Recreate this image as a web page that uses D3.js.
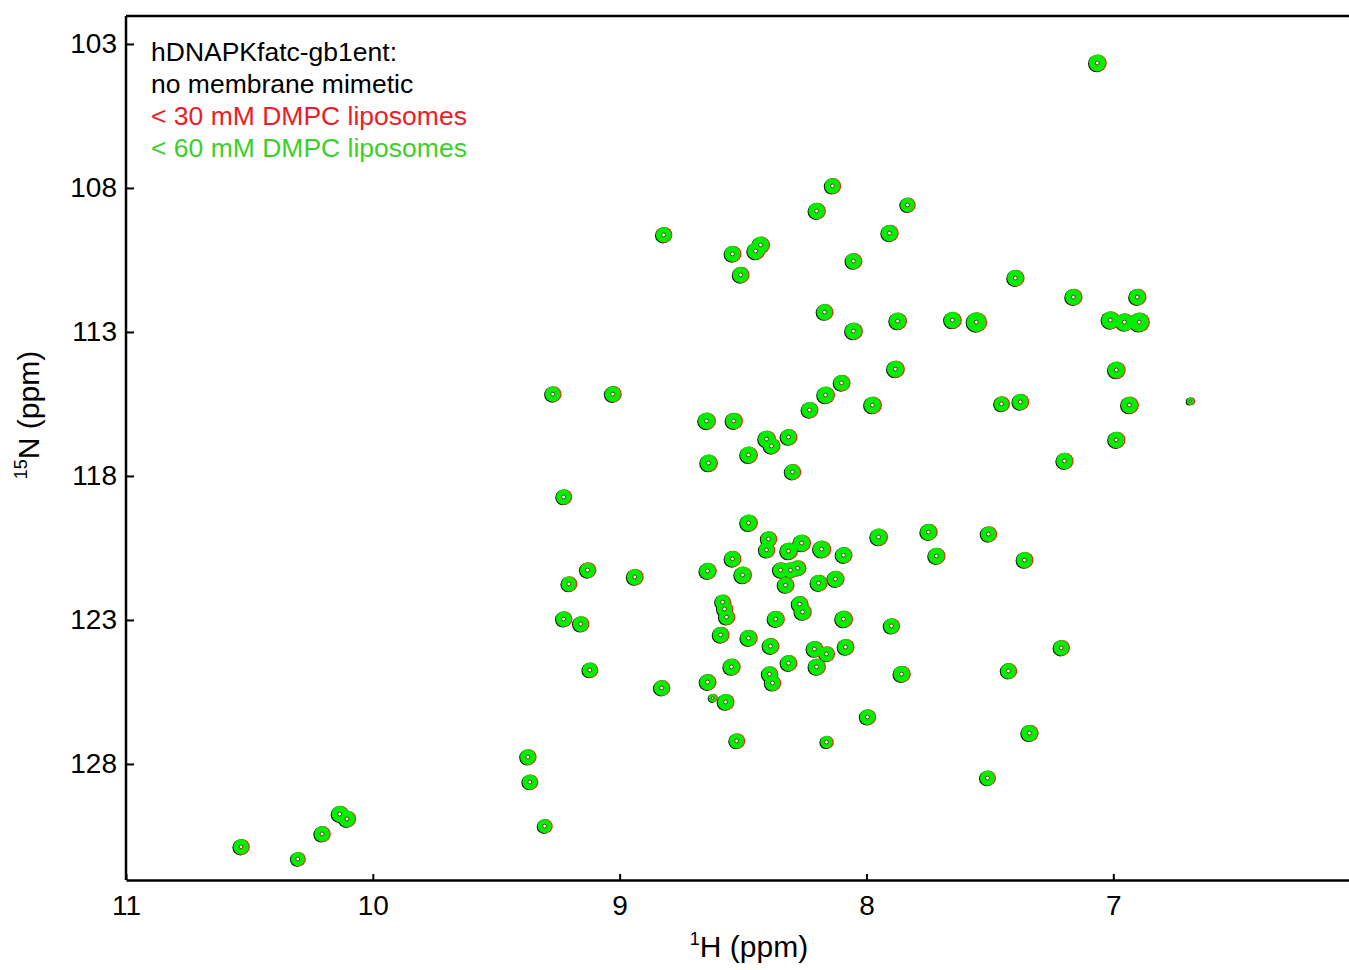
<!DOCTYPE html>
<html>
<head>
<meta charset="utf-8">
<script src="https://cdn.jsdelivr.net/npm/d3@7"></script>
<style>
  html, body { margin: 0; padding: 0; background: #fff; }
  svg { display: block; }
  text { font-family: Arial, "Liberation Sans", sans-serif; }
</style>
</head>
<body>
<svg id="chart" width="1349" height="970"></svg>
<script>
// 1H-15N HSQC overlay of hDNAPKfatc-gb1ent under three conditions.
// Each peak: [1H shift (ppm), 15N shift (ppm), relative intensity]
const peaks = [
  [7.065, 103.66, 1.0], [8.138, 107.93, 0.85], [7.834, 108.59, 0.75], [8.202, 108.80, 0.95],
  [8.822, 109.63, 0.85], [7.907, 109.57, 0.95], [8.449, 110.19, 1.0], [8.429, 109.98, 1.0],
  [8.543, 110.29, 0.9], [8.053, 110.54, 0.9], [8.510, 111.02, 0.9], [7.397, 111.13, 0.95],
  [7.162, 111.79, 0.95], [6.903, 111.79, 0.95], [8.170, 112.31, 0.9], [7.652, 112.59, 1.0],
  [7.555, 112.66, 1.35], [7.874, 112.62, 1.0], [8.053, 112.97, 1.0], [7.012, 112.59, 1.1],
  [6.955, 112.66, 1.1], [6.895, 112.66, 1.3], [7.883, 114.29, 1.0], [6.988, 114.32, 1.0],
  [8.101, 114.77, 0.9], [8.166, 115.19, 1.0], [9.271, 115.16, 0.85], [9.028, 115.16, 0.9],
  [7.976, 115.54, 1.0], [8.231, 115.71, 0.9], [7.453, 115.50, 0.8], [7.377, 115.43, 0.9],
  [6.935, 115.54, 1.0], [6.688, 115.40, 0.2], [8.648, 116.09, 1.0], [8.538, 116.09, 0.95],
  [8.405, 116.72, 1.0], [8.385, 116.96, 0.9], [8.316, 116.65, 0.9], [6.988, 116.75, 0.95],
  [8.478, 117.27, 1.0], [8.640, 117.55, 1.0], [8.300, 117.86, 0.85], [7.198, 117.48, 0.95],
  [9.227, 118.73, 0.8], [8.478, 119.63, 1.0], [7.749, 119.95, 0.95], [7.506, 120.02, 0.85],
  [7.951, 120.12, 1.0], [8.397, 120.19, 0.85], [8.405, 120.57, 0.85], [8.263, 120.33, 1.0],
  [8.316, 120.61, 1.0], [8.182, 120.54, 1.05], [8.093, 120.75, 0.9], [7.717, 120.78, 0.95],
  [7.360, 120.92, 0.9], [8.543, 120.88, 0.9], [9.130, 121.27, 0.85], [8.644, 121.30, 0.95],
  [8.502, 121.44, 1.0], [8.348, 121.27, 0.85], [8.308, 121.27, 0.85], [8.279, 121.20, 0.85],
  [8.328, 121.79, 0.9], [8.194, 121.72, 0.95], [8.126, 121.58, 0.95], [8.939, 121.51, 0.9],
  [9.206, 121.75, 0.8], [8.583, 122.38, 0.8], [8.575, 122.62, 0.85], [8.567, 122.90, 0.85],
  [8.271, 122.45, 0.9], [8.259, 122.72, 0.95], [9.227, 122.97, 0.85], [9.158, 123.14, 0.85],
  [8.368, 122.97, 0.95], [8.093, 122.97, 1.0], [7.899, 123.21, 0.85], [8.591, 123.52, 0.9],
  [8.478, 123.63, 0.95], [8.389, 123.91, 0.9], [8.211, 124.01, 0.9], [8.162, 124.18, 0.8],
  [8.085, 123.94, 0.9], [7.211, 123.97, 0.85], [9.121, 124.74, 0.8], [8.547, 124.63, 0.95],
  [8.316, 124.50, 0.9], [8.202, 124.63, 0.95], [7.858, 124.88, 0.95], [7.425, 124.77, 0.85],
  [8.393, 124.88, 0.85], [8.381, 125.19, 0.85], [8.830, 125.36, 0.85], [8.644, 125.16, 0.9],
  [8.623, 125.71, 0.25], [8.571, 125.85, 0.9], [7.996, 126.37, 0.85], [8.526, 127.20, 0.8],
  [8.162, 127.24, 0.55], [7.340, 126.93, 0.95], [9.372, 127.76, 0.85], [9.364, 128.63, 0.8],
  [7.510, 128.49, 0.8], [9.304, 130.16, 0.7], [10.134, 129.74, 0.95], [10.105, 129.91, 0.95],
  [10.206, 130.43, 0.85], [10.534, 130.88, 0.85], [10.304, 131.30, 0.7]
];

const hTicks = [11, 10, 9, 8, 7];
const nTicks = [103, 108, 113, 118, 123, 128];

const legendLines = [
  { label: "hDNAPKfatc-gb1ent:", color: "#000000" },
  { label: "no membrane mimetic", color: "#000000" },
  { label: "< 30 mM DMPC liposomes", color: "#ee1c25" },
  { label: "< 60 mM DMPC liposomes", color: "#3ccf2c" }
];

// Spectra are stacked: reference first, then the two liposome titration points.
const spectra = [
  { name: "none",   fill: "#111111", dx: -0.7, dy: 0.6 },
  { name: "dmpc30", fill: "#ff1a1a", dx: 0.9,  dy: 0.1 },
  { name: "dmpc60", fill: "#00ee00", dx: 0,    dy: 0 }
];

const svg = d3.select("#chart");
const plotLeft = 126, plotTop = 16, plotRight = 1349, plotBottom = 880;

const x = d3.scaleLinear().domain([11, 6.045]).range([plotLeft, plotRight]);
const y = d3.scaleLinear().domain([102.03, 132.03]).range([plotTop, plotBottom]);
const r = d3.scaleSqrt().domain([0, 1]).range([0, 8.6]);

// Peaks
const plot = svg.append("g");
spectra.forEach((s, i) => {
  plot.append("g").selectAll("circle")
    .data(peaks).join("circle")
    .attr("cx", d => x(d[0]) + s.dx)
    .attr("cy", d => y(d[1]) + s.dy)
    .attr("r", d => r(d[2]) - (i === 2 ? 0.2 : 0))
    .attr("fill", s.fill);
});
// innermost contour ring at the peak maximum
plot.append("g").selectAll("circle")
  .data(peaks).join("circle")
  .attr("cx", d => x(d[0]))
  .attr("cy", d => y(d[1]))
  .attr("r", d => Math.min(1.9, r(d[2]) * 0.3))
  .attr("fill", "#f4fff0")
  .attr("stroke", "#6b2a1a")
  .attr("stroke-width", 0.9);

// Frame
svg.append("line")
  .attr("x1", plotLeft).attr("x2", plotRight).attr("y1", plotTop).attr("y2", plotTop)
  .attr("stroke", "#000").attr("stroke-width", 2.5);

const yAxis = svg.append("g")
  .attr("transform", `translate(${plotLeft},0)`)
  .call(d3.axisLeft(y).tickValues(nTicks).tickSizeInner(-8).tickSizeOuter(0).tickPadding(9).tickFormat(d3.format("d")));
const xAxis = svg.append("g")
  .attr("transform", `translate(0,${plotBottom})`)
  .call(d3.axisBottom(x).tickValues(hTicks).tickSizeInner(-6).tickSizeOuter(0).tickPadding(15).tickFormat(d3.format("d")));

[yAxis, xAxis].forEach(g => {
  g.select(".domain").attr("stroke", "#000").attr("stroke-width", 2.5);
  g.selectAll(".tick line").attr("stroke", "#000").attr("stroke-width", 2);
  g.selectAll(".tick text").attr("font-size", 28).attr("fill", "#000")
    .attr("font-family", "Arial, 'Liberation Sans', sans-serif");
});
yAxis.select(".domain").attr("d", `M0,${plotTop}V${plotBottom}`);

// Axis titles
const xt = svg.append("text")
  .attr("x", 749).attr("y", 957)
  .attr("text-anchor", "middle").attr("font-size", 30);
xt.append("tspan").attr("font-size", 18).attr("dy", -12).text("1");
xt.append("tspan").attr("dy", 12).text("H (ppm)");

const yt = svg.append("text")
  .attr("transform", "translate(39,415) rotate(-90)")
  .attr("text-anchor", "middle").attr("font-size", 30);
yt.append("tspan").attr("font-size", 18).attr("dy", -12).text("15");
yt.append("tspan").attr("dy", 12).text("N (ppm)");

// Legend
svg.append("g").selectAll("text")
  .data(legendLines).join("text")
  .attr("x", 151)
  .attr("y", (d, i) => 61 + i * 32)
  .attr("font-size", 26.5)
  .attr("fill", d => d.color)
  .text(d => d.label);
</script>
</body>
</html>
